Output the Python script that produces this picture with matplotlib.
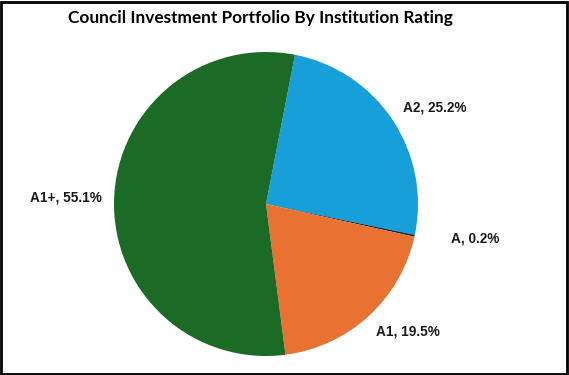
import matplotlib
matplotlib.use("Agg")
import matplotlib.pyplot as plt
from matplotlib.patches import Rectangle

labels = ["A2", "A", "A1", "A1+"]
shares = [25.2, 0.2, 19.5, 55.1]
colors = ["#169fd9", "#0e2841", "#e97132", "#1b6b27"]

# label positions (in pie radii), Excel-style outside labels
label_pos = [(1.109, 0.632), (1.375, -0.23), (0.934, -0.836), (-1.313, 0.046)]

fig = plt.figure(figsize=(5.69, 3.75), dpi=100)
ax = fig.add_axes([0, 0, 1, 1])

wedges, _ = ax.pie(shares, colors=colors, startangle=79, counterclock=False,
                   wedgeprops=dict(linewidth=0))
for lab, val, (x, y) in zip(labels, shares, label_pos):
    ax.text(x, y, f"{lab}, {val}%", ha="center", va="center",
            fontsize=9.8, fontweight="bold", color="#1a1a1a", family="Liberation Sans")

ax.set_xlim(-266 / 152, 303 / 152)
ax.set_ylim(-171 / 152, 204 / 152)
ax.set_aspect("auto")
ax.axis("off")

fig.text(0.458, 0.953, "Council Investment Portfolio By Institution Rating",
         ha="center", va="center", fontsize=12.4, fontweight="bold", family="Lato")
fig.patches.append(Rectangle((0.002, 0.003), 0.995, 0.993, transform=fig.transFigure,
                             fill=False, edgecolor="black", linewidth=2))

fig.savefig("out.png", dpi=100)
